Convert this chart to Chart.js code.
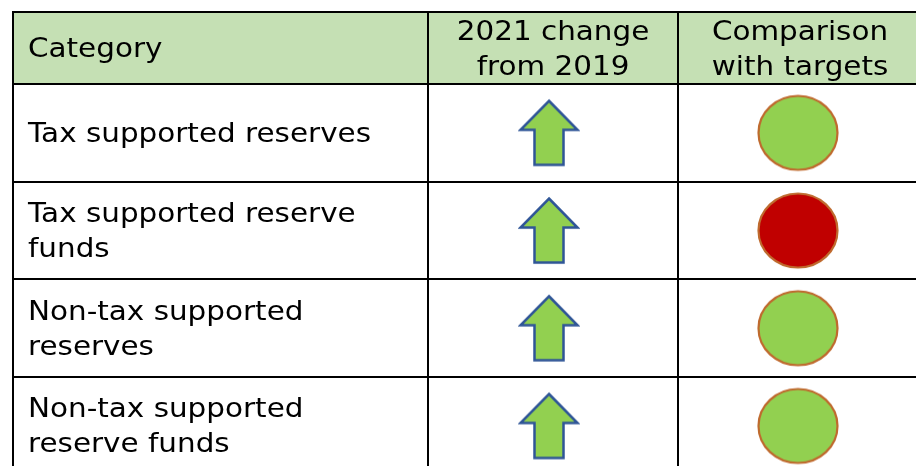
<!DOCTYPE html>
<html>
<head>
<meta charset="utf-8">
<script src="https://cdn.jsdelivr.net/npm/chart.js@4/dist/chart.umd.min.js"></script>
<style>
  html, body { margin: 0; padding: 0; background: #fff; overflow: hidden; }
  #wrap { position: relative; width: 916px; height: 466px; }
  #tabela { display: block; }
</style>
</head>
<body>
<div id="wrap"><canvas id="tabela"></canvas></div>
<script>
// Dados da tabela
const categorias = [
  'Tax supported reserves',
  'Tax supported reserve funds',
  'Non-tax supported reserves',
  'Non-tax supported reserve funds'
];
const cabecalhos = [
  ['Category'],
  ['2021 change', 'from 2019'],
  ['Comparison', 'with targets']
];
const variacao = ['up', 'up', 'up', 'up'];
const metas = ['met', 'not met', 'met', 'met'];

// Cores e estilos
const cores = {
  cabecalho: '#C5E0B4',
  linha: '#000000',
  texto: '#000000',
  seta: '#92D050',
  setaBorda: '#2F5597',
  ok: '#92D050',
  falha: '#C00000',
  circuloBorda: '#BF6A2E'
};
const fonte = '27px "DejaVu Sans", Verdana, sans-serif';
const esticar = 1.09;       // texto um pouco mais largo, como no original
const entreLinhas = 35;
const limitesColunas = [0.514, 1.518]; // divisores verticais em unidades da escala x

// Seta para cima (imagem usada como pointStyle)
function criarSeta(cor, borda) {
  const c = document.createElement('canvas');
  c.width = 62; c.height = 69;
  const g = c.getContext('2d');
  g.translate(2.5, 2.5);
  g.beginPath();
  g.moveTo(28.5, 0);
  g.lineTo(57, 29);
  g.lineTo(43, 29);
  g.lineTo(43, 64);
  g.lineTo(14, 64);
  g.lineTo(14, 29);
  g.lineTo(0, 29);
  g.closePath();
  g.fillStyle = cor;
  g.fill();
  g.lineWidth = 2.5;
  g.strokeStyle = borda;
  g.stroke();
  return c;
}

// Círculo (levemente oval) para comparação com metas
function criarCirculo(cor, borda) {
  const c = document.createElement('canvas');
  c.width = 84; c.height = 79;
  const g = c.getContext('2d');
  g.beginPath();
  g.ellipse(42, 39.5, 39.5, 37, 0, 0, Math.PI * 2);
  g.fillStyle = cor;
  g.fill();
  g.lineWidth = 2.2;
  g.strokeStyle = borda;
  g.stroke();
  return c;
}

const imgSeta = criarSeta(cores.seta, cores.setaBorda);
const imgOk = criarCirculo(cores.ok, cores.circuloBorda);
const imgFalha = criarCirculo(cores.falha, cores.circuloBorda);

// Quebra de linha pela largura da coluna
function quebrarTexto(ctx, texto, largura) {
  const palavras = texto.split(' ');
  const linhas = [];
  let atual = '';
  palavras.forEach(p => {
    const teste = atual ? atual + ' ' + p : p;
    if (ctx.measureText(teste).width * esticar > largura && atual) {
      linhas.push(atual);
      atual = p;
    } else {
      atual = teste;
    }
  });
  if (atual) linhas.push(atual);
  return linhas;
}

function escreverLinhas(ctx, linhas, x, yCentro, alinhar) {
  ctx.textAlign = alinhar;
  const y0 = yCentro - (linhas.length - 1) * entreLinhas / 2;
  linhas.forEach((l, i) => {
    ctx.save();
    ctx.translate(x, y0 + i * entreLinhas);
    ctx.scale(esticar, 1);
    ctx.fillText(l, 0, 0);
    ctx.restore();
  });
}

// Plugin que desenha a grade e os textos da tabela
const pluginTabela = {
  id: 'tabela',
  beforeDatasetsDraw(chart) {
    const { ctx, chartArea, scales } = chart;
    const sx = scales.x, sy = scales.y;
    const esquerda = chartArea.left;
    const direita = chart.width;
    const topo = chartArea.top;
    const baseCab = Math.round(sy.getPixelForValue(-0.5));
    const div1 = Math.round(sx.getPixelForValue(limitesColunas[0]));
    const div2 = Math.round(sx.getPixelForValue(limitesColunas[1]));

    ctx.save();
    // fundo do cabeçalho
    ctx.fillStyle = cores.cabecalho;
    ctx.fillRect(esquerda, topo, direita - esquerda, baseCab - topo);

    // linhas
    ctx.strokeStyle = cores.linha;
    ctx.lineWidth = 2;
    ctx.beginPath();
    const horizontais = [topo, baseCab];
    categorias.forEach((_, i) => horizontais.push(Math.round(sy.getPixelForValue(i + 0.5))));
    horizontais.forEach(y => {
      ctx.moveTo(esquerda - 1, y);
      ctx.lineTo(direita, y);
    });
    [esquerda, div1, div2].forEach(x => {
      ctx.moveTo(x, topo - 1);
      ctx.lineTo(x, chart.height);
    });
    ctx.stroke();

    // textos
    ctx.fillStyle = cores.texto;
    ctx.font = fonte;
    ctx.textBaseline = 'middle';
    const xTexto = esquerda + 15;
    const centroCab = (topo + baseCab) / 2 + 2;
    escreverLinhas(ctx, cabecalhos[0], xTexto, centroCab, 'left');
    escreverLinhas(ctx, cabecalhos[1], (div1 + div2) / 2, centroCab, 'center');
    escreverLinhas(ctx, cabecalhos[2], div2 + 122, centroCab, 'center');

    const larguraCol = div1 - xTexto - 20;
    categorias.forEach((cat, i) => {
      const linhas = quebrarTexto(ctx, cat, larguraCol);
      escreverLinhas(ctx, linhas, xTexto, sy.getPixelForValue(i) + 2, 'left');
    });
    ctx.restore();
  }
};

// Configuração do gráfico
const configTabela = {
  type: 'scatter',
  data: {
    datasets: [
      {
        label: '2021 change from 2019',
        data: categorias.map((c, i) => ({ x: 1, y: i })),
        pointStyle: imgSeta,
        rotation: variacao.map(v => v === 'up' ? 0 : 180),
        clip: false
      },
      {
        label: 'Comparison with targets',
        data: categorias.map((c, i) => ({ x: 2, y: i })),
        pointStyle: metas.map(m => m === 'met' ? imgOk : imgFalha),
        clip: false
      }
    ]
  },
  options: {
    responsive: true,
    maintainAspectRatio: false,
    animation: false,
    events: [],
    layout: { autoPadding: false, padding: { left: 13, top: 12, right: 0, bottom: 0 } },
    plugins: {
      legend: { display: false },
      tooltip: { enabled: false }
    },
    scales: {
      x: { type: 'linear', display: false, min: -1.1526, max: 2.474 },
      y: { type: 'linear', display: false, reverse: true, min: -1.237, max: 3.41 }
    }
  },
  plugins: [pluginTabela]
};

document.addEventListener('DOMContentLoaded', () => {
  new Chart(document.getElementById('tabela').getContext('2d'), configTabela);
});
</script>
</body>
</html>
